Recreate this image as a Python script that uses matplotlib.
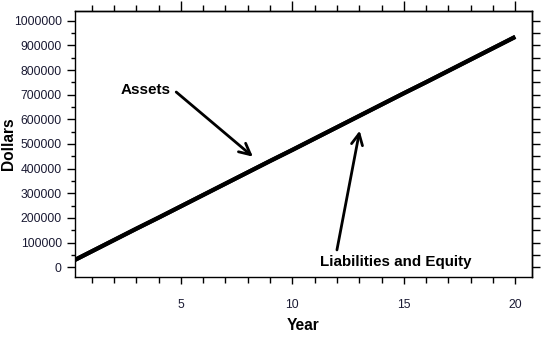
import matplotlib
matplotlib.use("Agg")
import matplotlib.pyplot as plt
from matplotlib.ticker import MultipleLocator

plt.rcParams['font.family'] = ['Liberation Sans', 'DejaVu Sans']

years = [0, 1, 2, 3, 4, 5, 6, 7, 8, 9, 10, 11, 12, 13, 14, 15, 16, 17, 18, 19, 20]
assets = [18000, 64000, 110000, 156000, 201000, 247000, 293000, 339000, 385000, 431000,
          476000, 522000, 568000, 614000, 660000, 706000, 751000, 797000, 843000, 889000, 935000]
liab_equity = [18000, 64000, 110000, 156000, 201000, 247000, 293000, 339000, 385000, 431000,
               476000, 522000, 568000, 614000, 660000, 706000, 751000, 797000, 843000, 889000, 935000]
xticks = [5, 10, 15, 20]
yticks = [0, 100000, 200000, 300000, 400000, 500000, 600000, 700000, 800000, 900000, 1000000]
ytick_labels = [str(v) for v in yticks]

fig = plt.figure(figsize=(5.5, 3.39), dpi=100)
ax = fig.add_axes([75/550, 62/339, 457/550, 266/339])

ax.plot(years, assets, color='black', lw=3, solid_capstyle='butt')
ax.plot(years, liab_equity, color='black', lw=3, solid_capstyle='butt')

ax.set_xlim(0.25, 20.75)
ax.set_ylim(-40000, 1040000)
ax.set_xticks(xticks)
ax.set_yticks(yticks)
ax.set_yticklabels(ytick_labels)
ax.xaxis.set_minor_locator(MultipleLocator(1))
ax.yaxis.set_minor_locator(MultipleLocator(50000))

tc = '#1a1a33'
tsize = 8.7
ax.tick_params(axis='x', which='major', direction='out', length=5, width=1, pad=11,
               labelsize=tsize, labelcolor=tc, top=False)
ax.tick_params(axis='x', which='minor', direction='out', length=4, width=1, top=False)
ax.tick_params(axis='y', which='major', direction='out', length=6, width=1, pad=3.5,
               labelsize=tsize, labelcolor=tc, right=False)
ax.tick_params(axis='y', which='minor', direction='out', length=3, width=1, right=False)

for s in ax.spines.values():
    s.set_linewidth(1)

# top ticks
sx = ax.secondary_xaxis('top')
sx.set_xticks(xticks)
sx.xaxis.set_minor_locator(MultipleLocator(1))
sx.tick_params(which='major', direction='out', length=7, width=1, labeltop=False)
sx.tick_params(which='minor', direction='out', length=4, width=1)
sx.spines['top'].set_linewidth(1)

# right ticks
sy = ax.secondary_yaxis('right')
sy.yaxis.set_major_locator(MultipleLocator(50000))
sy.tick_params(which='major', direction='out', length=6, width=1, labelright=False)
sy.spines['right'].set_linewidth(1)

ax.set_xlabel('Year', fontsize=11.2, fontweight='bold')
ax.xaxis.set_label_coords(0.5, -(318 - 277) / 266)
ax.set_ylabel('Dollars', fontsize=11.2, fontweight='bold')
ax.yaxis.set_label_coords(-(75 - 16) / 457, 0.5)

ap = dict(arrowstyle='->,head_length=0.8,head_width=0.4', lw=2, color='black',
          shrinkA=0, shrinkB=0)
ax.annotate('', xy=(8.23, 448500), xytext=(4.79, 711000), arrowprops=ap)
ax.text(4.53, 719000, 'Assets', ha='right', va='center', fontsize=11, fontweight='bold')

ax.annotate('', xy=(13.02, 554000), xytext=(12.0, 70000), arrowprops=ap)
ax.text(14.66, 22700, 'Liabilities and Equity', ha='center', va='center',
        fontsize=10.9, fontweight='bold')

fig.savefig('out.png', dpi=100)
